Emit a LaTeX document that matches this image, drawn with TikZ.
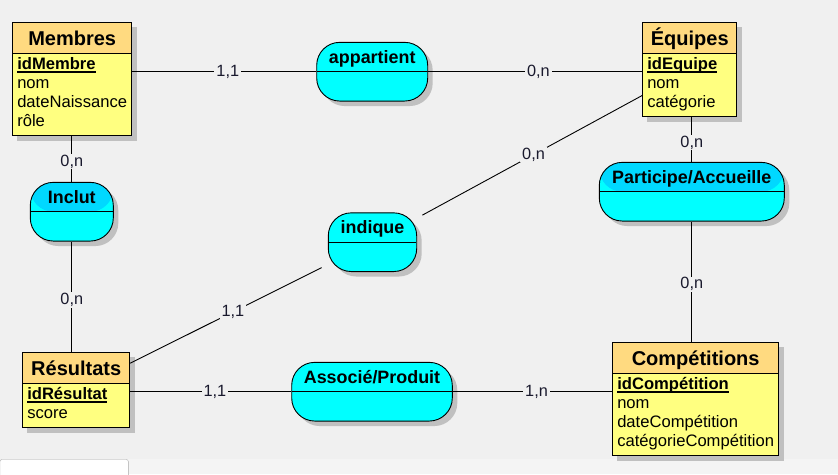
\documentclass[tikz,border=0pt]{standalone}
\usepackage{fontspec}
\setmainfont{Liberation Sans}
\usetikzlibrary{shapes.multipart,shadows}
\definecolor{bgGray}{RGB}{240,240,240}
\definecolor{stripGray}{RGB}{244,244,244}
\definecolor{frameGray}{RGB}{170,170,170}
\definecolor{shadowGray}{RGB}{192,192,192}
\definecolor{entHead}{RGB}{255,218,128}
\definecolor{entBody}{RGB}{255,255,128}
\definecolor{assoBody}{RGB}{0,255,255}
\definecolor{assoHead}{RGB}{0,216,255}
\definecolor{cardText}{RGB}{25,25,45}
\newcommand{\enttitle}[1]{\fontsize{20}{24}\bfseries\rule[-5.5pt]{0pt}{25pt}#1}
\newcommand{\attrs}[1]{\fontsize{16.6}{19}\selectfont\begin{tabular}{@{}l@{}}#1\end{tabular}}
\newcommand{\idkey}[1]{\setbox0\hbox{\bfseries#1}\rlap{\rule[-2.8pt]{\wd0}{1.3pt}}\box0}
\pgfdeclarelayer{background}
\pgfsetlayers{background,main}
\begin{document}
\begin{tikzpicture}[x=1pt,y=-1pt,
    entity/.style={rectangle split,rectangle split parts=2,
        rectangle split part fill={entHead,entBody},
        rectangle split part align={center,left},
        draw,line width=0.9pt,anchor=north west,inner xsep=4.5pt,inner ysep=2.5pt},
    assoc/.style={draw,line width=0.9pt,rounded corners=23pt,fill=assoBody,
        minimum height=58.7pt,text height=13pt,text depth=30.2pt,inner xsep=0pt,
        font=\fontsize{17.9}{21}\bfseries,
        drop shadow={shadow xshift=5pt,shadow yshift=-5pt,fill=shadowGray,opacity=1},
        path picture={\fill[#1] (path picture bounding box.north west) rectangle (path picture bounding box.east);
            \draw[line width=0.9pt] (path picture bounding box.west) -- (path picture bounding box.east);}},
    assoc/.default=assoBody,
    card/.style={font=\fontsize{16.3}{19}\selectfont,text=cardText,fill=bgGray,inner xsep=2pt,inner ysep=1pt},
    link/.style={line width=0.9pt}]
    \useasboundingbox (0,0) rectangle (838,474);
    \begin{pgfonlayer}{background}
        \fill[bgGray] (0,0) rectangle (838,474);
        \fill[stripGray] (0,459) rectangle (838,474);
        \draw[frameGray,fill=white,rounded corners=2pt] (0,476) -- (0,459.5) -- (128.3,459.5) -- (128.3,476);
    \end{pgfonlayer}
    % entites
    \node[entity,minimum width=118pt] (membres) at (12.3,22.3) {\enttitle{Membres}\nodepart{two}\attrs{\idkey{idMembre}\\nom\\dateNaissance\\rôle}};
    \node[entity,minimum width=94pt] (equipes) at (642.3,22.3) {\enttitle{Équipes}\nodepart{two}\attrs{\idkey{idEquipe}\\nom\\catégorie}};
    \node[entity,minimum width=107pt] (resultats) at (22.3,352.3) {\enttitle{Résultats}\nodepart{two}\attrs{\idkey{idRésultat}\\score}};
    \node[entity,minimum width=165pt] (competitions) at (612.3,342.3) {\enttitle{Compétitions}\nodepart{two}\attrs{\idkey{idCompétition}\\nom\\dateCompétition\\catégorieCompétition}};
    \begin{pgfonlayer}{background}
        \foreach \e in {membres,equipes,resultats,competitions}
            \fill[shadowGray] ([shift={(5pt,-5pt)}]\e.north west) rectangle ([shift={(5pt,-5pt)}]\e.south east);
    \end{pgfonlayer}
    % associations
    \node[assoc,minimum width=111pt] (appartient) at (372.2,71.7) {appartient};
    \node[assoc=assoHead,minimum width=83pt] (inclut) at (71.8,211.7) {Inclut};
    \node[assoc,minimum width=88.4pt] (indique) at (372.5,242.2) {indique};
    \node[assoc=assoHead,minimum width=185pt] (participe) at (691.8,191.7) {Participe/Accueille};
    \node[assoc,minimum width=160.6pt] (associe) at (372,391.7) {Associé/Produit};
    % liens
    \draw[link] (appartient -| membres.east) -- node[card,pos=.52]{1,1} (appartient);
    \draw[link] (appartient -| equipes.west) -- node[card,pos=.485]{0,n} (appartient);
    \draw[link] (inclut |- membres.south) -- node[card,pos=.56]{0,n} (inclut);
    \draw[link] (inclut |- resultats.north) -- node[card,pos=.47]{0,n} (inclut);
    \draw[link] (participe |- equipes.south) -- node[card,pos=.57]{0,n} (participe);
    \draw[link] (participe |- competitions.north) -- node[card,pos=.48]{0,n} (participe);
    \draw[link] (associe -| resultats.east) -- node[card,pos=.526]{1,1} (associe);
    \draw[link] (associe -| competitions.west) -- node[card,pos=.475]{1,n} (associe);
    \draw[link,shorten >=7pt] (resultats) -- node[card,pos=.52]{1,1} (indique);
    \draw[link,shorten >=6pt] (equipes) -- node[card,pos=.483]{0,n} (indique);
\end{tikzpicture}
\end{document}
